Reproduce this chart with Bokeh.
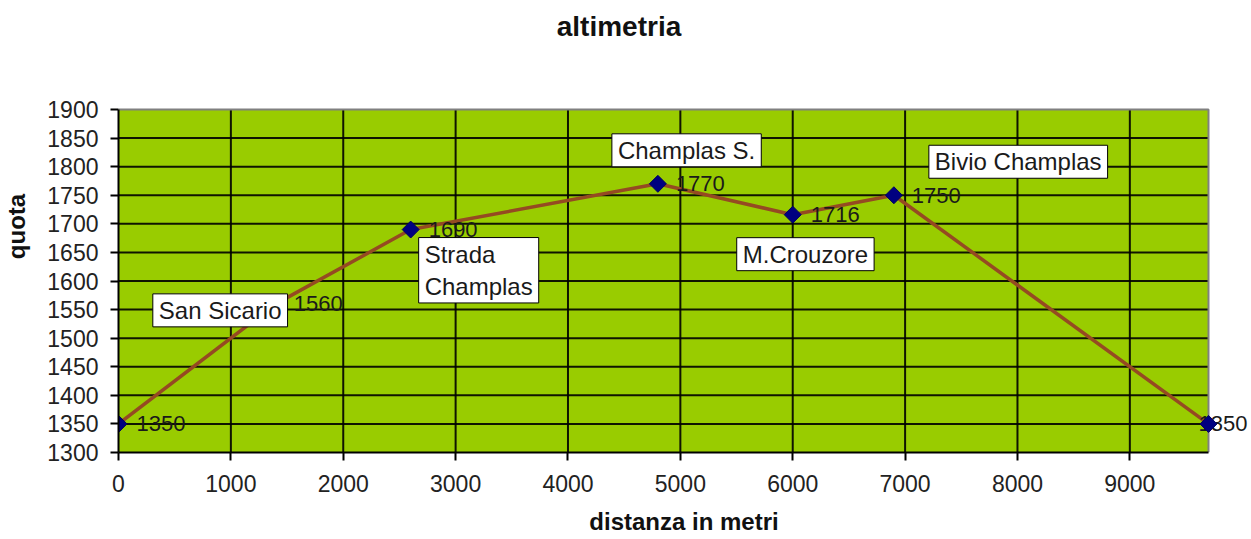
import math
from bokeh.plotting import figure
from bokeh.models import ColumnDataSource, Label, FixedTicker, Range1d
from bokeh.core.properties import value
from bokeh.embed import file_html
from bokeh.resources import INLINE

# ---- data ----
distanza = [0, 1400, 2600, 4800, 6000, 6900, 9700]
quota = [1350, 1560, 1690, 1770, 1716, 1750, 1350]
quota_labels = [str(q) for q in quota]
nomi = ["San Sicario", "Strada\nChamplas", "Champlas S.", "M.Crouzore", "Bivio Champlas"]
nomi_idx = [1, 2, 3, 4, 5]
x_ticks = [0, 1000, 2000, 3000, 4000, 5000, 6000, 7000, 8000, 9000]
y_ticks = [1300, 1350, 1400, 1450, 1500, 1550, 1600, 1650, 1700, 1750, 1800, 1850, 1900]
x_max = 9700
titolo = "altimetria"

# ---- layout (pixels) ----
W, H = 1250, 538
LEFT, BOTTOM = 118, 86          # borders around the frame
PLOT_W, PLOT_H = 1090, 343      # size of the green plotting area
frame_w = W - LEFT - 1
frame_h = H - BOTTOM
y_min, y_max = y_ticks[0], y_ticks[-1]
x_end = x_max * frame_w / PLOT_W
y_end = y_min + (y_max - y_min) * frame_h / PLOT_H

def data_x(px):
    return (px - LEFT) / PLOT_W * x_max

def data_y(py):
    return y_min + (frame_h - py) / PLOT_H * (y_max - y_min)

# name boxes: top-left corner offset (pixels, right / up) from their point
nomi_offsets = [(-123, 10), (8, -8), (-46, 50), (-56, -23), (35, 50)]
# value labels: horizontal offset from the point
valore_dx = [18, 18, 18, 18, 18, 18, -10]

SANS = "Liberation Sans"

p = figure(width=W, height=H,
           x_range=Range1d(0, x_end), y_range=Range1d(y_min, y_end),
           output_backend="svg", toolbar_location=None,
           min_border_left=LEFT, min_border_right=1, min_border_top=0, min_border_bottom=BOTTOM,
           background_fill_color="white", border_fill_color="white")
p.outline_line_color = None
p.grid.visible = False

# green plot area
p.quad(left=[0], right=[x_max], bottom=[y_min], top=[y_max],
       fill_color="#99CC00", line_color=None)

# grid lines
hy = y_ticks[1:-1]
p.segment(x0=[0] * len(hy), x1=[x_max] * len(hy), y0=hy, y1=hy,
          line_color="#000000", line_width=2, line_alpha=0.9)
vx = x_ticks[1:]
p.segment(x0=vx, x1=vx, y0=[y_min] * len(vx), y1=[y_max] * len(vx),
          line_color="#000000", line_width=2, line_alpha=0.9)
# grey top / right border of the plot area
p.line(x=[0, x_max, x_max], y=[y_max, y_max, y_min], line_color="#808080", line_width=2)

# axes
p.xaxis.ticker = FixedTicker(ticks=x_ticks)
p.yaxis.ticker = FixedTicker(ticks=y_ticks)
p.xaxis.bounds = (0, x_max)
p.yaxis.bounds = (y_min, y_max)
for ax in (p.xaxis, p.yaxis):
    ax.axis_line_color = "#000000"
    ax.axis_line_width = 2
    ax.major_tick_line_color = "#000000"
    ax.major_tick_line_width = 2
    ax.major_tick_out = 8
    ax.major_tick_in = 0
    ax.minor_tick_line_color = None
    ax.major_label_text_font = SANS
    ax.major_label_text_font_size = "23px"
    ax.major_label_text_color = "#222222"
    ax.major_label_standoff = 12
    ax.axis_label_text_font = SANS
    ax.axis_label_text_font_style = "bold"
    ax.axis_label_text_font_size = "24px"
    ax.axis_label_text_color = "#111111"

p.xaxis.major_label_standoff = 14
p.xaxis.axis_label = "distanza in metri"
p.xaxis.axis_label_standoff = 13
p.yaxis.axis_label = "quota"
p.yaxis.axis_label_standoff = 14

src = ColumnDataSource(dict(x=distanza, y=quota, t=quota_labels, dx=valore_dx))

p.line("x", "y", source=src, line_color="#954A22", line_width=3.5)
p.text("x", "y", text="t", source=src, x_offset="dx", y_offset=0,
       text_baseline="middle", text_align="left",
       text_font=value(SANS), text_font_size="22px", text_color="#1a1a1a")
p.scatter("x", "y", source=src, marker="square", size=12, angle=math.pi / 4,
          fill_color="#000080", line_color="#000060", line_width=1)

for name, idx, (dx, dy) in zip(nomi, nomi_idx, nomi_offsets):
    p.add_layout(Label(x=distanza[idx], y=quota[idx], x_offset=dx, y_offset=dy, text=name,
                       text_align="left", text_baseline="top",
                       text_font=SANS, text_font_size="24px", text_color="#1a1a1a",
                       background_fill_color="white", border_line_color="#000000",
                       border_line_width=1, padding=(6, 3)))

p.add_layout(Label(x=data_x(618.5), y=data_y(26), text=titolo,
                   text_align="center", text_baseline="alphabetic",
                   text_font=SANS, text_font_style="bold", text_font_size="28px",
                   text_color="#111111"))

open("out.html", "w").write(file_html(p, INLINE))
